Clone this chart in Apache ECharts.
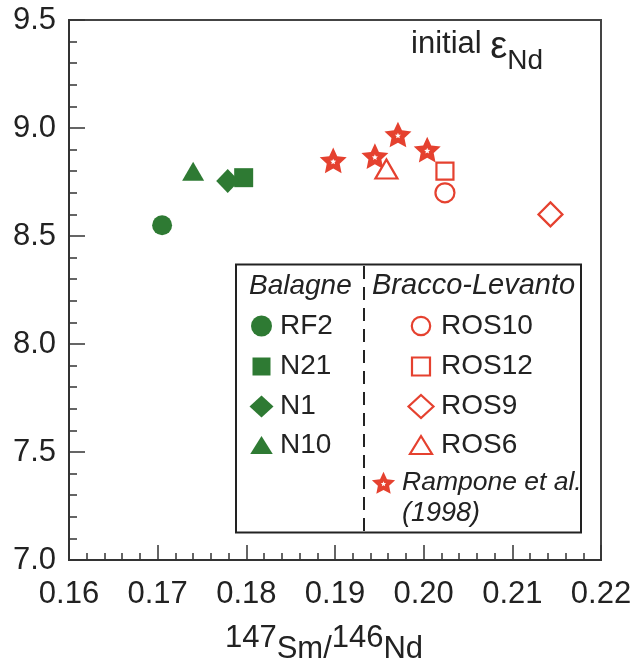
<!DOCTYPE html>
<html><head><meta charset="utf-8">
<script src="https://cdn.jsdelivr.net/npm/echarts@6/dist/echarts.min.js"></script>
<style>html,body{margin:0;padding:0;background:#fff}#c{width:636px;height:670px}</style>
</head><body><div id="c"></div>
<script>
// ---- data ----
const balagneNames = ['RF2', 'N21', 'N1', 'N10'];
const balagneX = [0.1705, 0.1797, 0.1779, 0.1740];
const balagneY = [8.55, 8.77, 8.755, 8.80];
const braccoNames = ['ROS10', 'ROS12', 'ROS9', 'ROS6'];
const braccoX = [0.2024, 0.2024, 0.2143, 0.1958];
const braccoY = [8.70, 8.80, 8.60, 8.81];
const ramponeName = 'Rampone et al. (1998)';
const ramponeX = [0.1898, 0.1945, 0.1971, 0.2004];
const ramponeY = [8.85, 8.87, 8.97, 8.90];
const xMin = 0.16, xMax = 0.22, xStep = 0.01;
const yMin = 7.0, yMax = 9.5, yStep = 0.5;

// ---- styles ----
const GREEN = '#2e7a33';
const RED = '#e5412f';
const INK = '#222';
const FONT = 'Liberation Sans, Arial, sans-serif';
const STAR = 'path://M50,0L64.11,30.58L97.55,34.55L72.83,57.42L79.39,90.45L50,74L20.61,90.45L27.17,57.42L2.45,34.55L35.89,30.58Z' +
  'M50,39L47.06,45.95L39.54,46.60L45.24,51.55L43.53,58.90L50,55L56.47,58.90L54.76,51.55L60.46,46.60L52.94,45.95Z';

const greenSymbols = ['circle', 'rect', 'diamond', 'triangle'];
const greenSizes = [20, 19, [23, 24], [22, 19]];
const redSymbols = ['circle', 'rect', 'diamond', 'triangle'];
const redSizes = [19, 17, [24, 24], [22, 19]];

const series = [];
balagneNames.forEach((n, i) => {
  series.push({
    name: n, type: 'scatter', symbol: greenSymbols[i], symbolSize: greenSizes[i],
    itemStyle: { color: GREEN, opacity: 1 },
    data: [[balagneX[i], balagneY[i]]], silent: true, z: 3
  });
});
series.push({
  name: ramponeName, type: 'scatter', symbol: STAR, symbolSize: 27, symbolKeepAspect: true,
  itemStyle: { color: RED, opacity: 1 },
  data: ramponeX.map((x, i) => [x, ramponeY[i]]), silent: true, z: 3
});
braccoNames.forEach((n, i) => {
  series.push({
    name: n, type: 'scatter', symbol: redSymbols[i], symbolSize: redSizes[i],
    itemStyle: { color: '#fff', borderColor: RED, borderWidth: 2.2, opacity: 1 },
    data: [[braccoX[i], braccoY[i]]], silent: true, z: 4
  });
});

// ---- legend (drawn box) ----
function starPts(cx, cy, R, r) {
  const p = [];
  for (let k = 0; k < 10; k++) {
    const a = (-90 + 36 * k) * Math.PI / 180, rr = k % 2 ? r : R;
    p.push([cx + rr * Math.cos(a), cy + rr * Math.sin(a)]);
  }
  return p;
}
function diamondPts(cx, cy, w, h) { return [[cx, cy - h / 2], [cx + w / 2, cy], [cx, cy + h / 2], [cx - w / 2, cy]]; }
function triPts(cx, cy, w, h) { return [[cx, cy - h / 2], [cx + w / 2, cy + h / 2], [cx - w / 2, cy + h / 2]]; }
function legendSym(kind, cx, cy, filled, color) {
  const st = filled ? { fill: color } : { fill: '#fff', stroke: color, lineWidth: 2.2 };
  if (kind === 'circle') return { type: 'circle', shape: { cx: cx, cy: cy, r: filled ? 10.5 : 9.2 }, style: st };
  if (kind === 'rect') return { type: 'rect', shape: { x: cx - 9, y: cy - 9, width: 18, height: 18 }, style: st };
  if (kind === 'diamond') return { type: 'polygon', shape: { points: diamondPts(cx, cy, filled ? 24 : 25, filled ? 22 : 23) }, style: st };
  return { type: 'polygon', shape: { points: triPts(cx, cy, filled ? 22.5 : 22, 18) }, style: st };
}
const rowsY = [326, 366.5, 406.5, 445];
const txt = (x, y, s, italic, fs) => ({
  type: 'text', x: x, y: y,
  style: { text: s, fontSize: fs || 28, fontFamily: FONT, fontStyle: italic ? 'italic' : 'normal', fill: INK, verticalAlign: 'middle', align: 'left' }
});
const graphics = [
  { type: 'rect', shape: { x: 236, y: 264.5, width: 345, height: 268 }, style: { fill: 'none', stroke: INK, lineWidth: 2 } },
  { type: 'line', shape: { x1: 364, y1: 266, x2: 364, y2: 532 }, style: { stroke: INK, lineWidth: 2, lineDash: [13, 8] } },
  txt(249, 286, 'Balagne', true, 28),
  txt(372, 286, 'Bracco-Levanto', true, 29)
];
balagneNames.forEach((n, i) => {
  graphics.push(legendSym(greenSymbols[i], 261.5, rowsY[i], true, GREEN));
  graphics.push(txt(280, rowsY[i], n, false));
});
braccoNames.forEach((n, i) => {
  graphics.push(legendSym(redSymbols[i], 421, rowsY[i], false, RED));
  graphics.push(txt(441, rowsY[i], n, false));
});
graphics.push({ type: 'polygon', shape: { points: starPts(383.5, 484, 12.2, 5.9) }, style: { fill: RED } });
graphics.push({ type: 'polygon', shape: { points: starPts(383.5, 484, 2.8, 1.3) }, style: { fill: '#fff' } });
graphics.push(txt(402, 483, 'Rampone et al.', true, 26.5));
graphics.push(txt(402, 513.5, '(1998)', true, 27));

const axisCommon = {
  type: 'value',
  axisLine: { show: true, onZero: false, lineStyle: { color: '#333', width: 2 } },
  splitLine: { show: false },
  minorSplitLine: { show: false }
};

const chart = echarts.init(document.getElementById('c'), null, { renderer: 'canvas' });
chart.setOption({
  animation: false,
  backgroundColor: '#fff',
  grid: { left: 69, right: 35, top: 20, bottom: 106, show: true, borderColor: '#444', borderWidth: 2, backgroundColor: 'transparent' },
  title: {
    text: '{a|initial }{e|ε}{s|Nd}', left: 411, top: 29, padding: 0,
    textStyle: {
      fontWeight: 'normal',
      rich: {
        a: { fontSize: 31, fontWeight: 'normal', fontFamily: FONT, color: INK, verticalAlign: 'top', lineHeight: 34 },
        e: { fontSize: 38, fontWeight: 'normal', fontFamily: FONT, color: INK, verticalAlign: 'top', lineHeight: 34 },
        s: { fontSize: 28, fontWeight: 'normal', fontFamily: FONT, color: INK, verticalAlign: 'bottom', lineHeight: 46 }
      }
    }
  },
  xAxis: Object.assign({}, axisCommon, {
    min: xMin, max: xMax, interval: xStep,
    axisTick: { show: true, inside: true, length: 15, lineStyle: { color: '#333', width: 1.5 } },
    minorTick: { show: true, splitNumber: 5, length: 7, lineStyle: { color: '#333', width: 1.5 } },
    axisLabel: { margin: 19, fontSize: 31, fontFamily: FONT, color: INK, formatter: v => v.toFixed(2), showMinLabel: true, showMaxLabel: true },
    name: '{sup|147}{b|Sm/}{sup|146}{b|Nd}', nameLocation: 'middle', nameGap: 63,
    nameTextStyle: {
      padding: [0, 22, 0, 0],
      rich: {
        sup: { fontSize: 31, fontFamily: FONT, color: INK, verticalAlign: 'top' },
        b: { fontSize: 31, fontFamily: FONT, color: INK, verticalAlign: 'bottom', lineHeight: 42 }
      }
    }
  }),
  yAxis: Object.assign({}, axisCommon, {
    min: yMin, max: yMax, interval: yStep,
    axisTick: { show: true, inside: true, length: 16, lineStyle: { color: '#333', width: 1.5 } },
    minorTick: { show: true, splitNumber: 5, length: 8, lineStyle: { color: '#333', width: 1.5 } },
    axisLabel: { margin: 13, fontSize: 31, fontFamily: FONT, color: INK, formatter: v => v.toFixed(1), showMinLabel: true, showMaxLabel: true }
  }),
  series: series,
  graphic: { elements: graphics }
});
</script>
</body></html>
